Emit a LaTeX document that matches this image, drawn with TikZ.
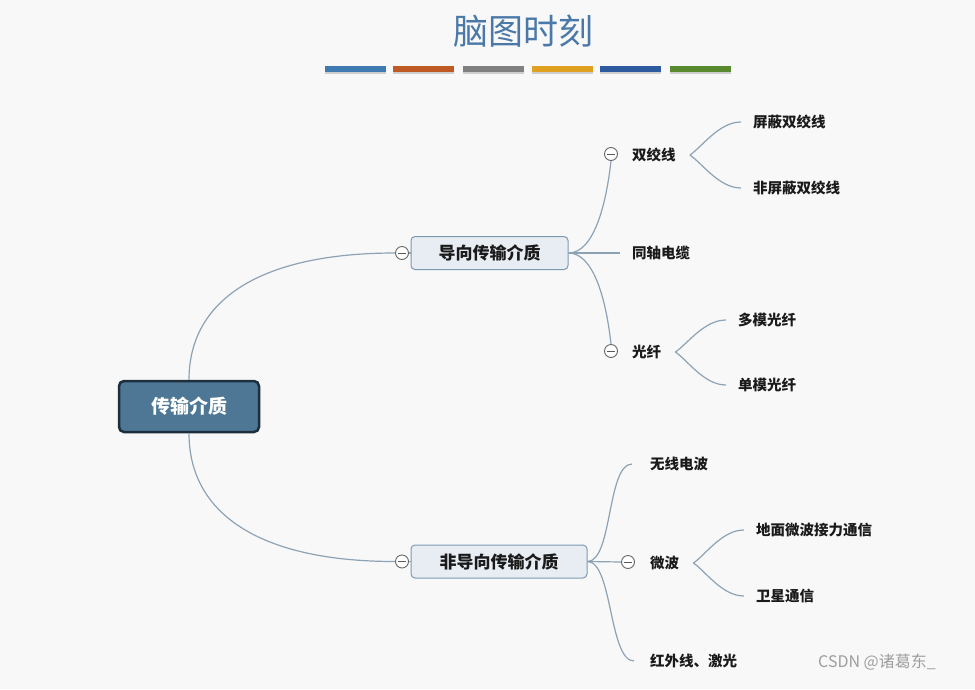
\documentclass[tikz,border=0pt]{standalone}
\usepackage{fontspec}
\newfontfamily\cjk{Noto Sans CJK SC}
\definecolor{bgc}{HTML}{F8F8F8}
\definecolor{linec}{HTML}{8DA2B5}
\definecolor{rootfill}{HTML}{4D7794}
\definecolor{rootborder}{HTML}{1D2E3D}
\definecolor{brfill}{HTML}{E7EDF3}
\definecolor{brborder}{HTML}{8099B3}
\definecolor{textc}{HTML}{1A1A1A}
\definecolor{titlec}{HTML}{4A78A8}
\definecolor{barA}{HTML}{3F7AB0}
\definecolor{barB}{HTML}{C05A24}
\definecolor{barC}{HTML}{808080}
\definecolor{barD}{HTML}{E0A020}
\definecolor{barE}{HTML}{2E5AA0}
\definecolor{barF}{HTML}{5A8A30}
\begin{document}
\begin{tikzpicture}[x=1pt,y=-1pt,
  conn/.style={draw=linec, line width=1.2pt},
  rootbox/.style={rectangle, rounded corners=5pt, draw=rootborder, line width=2.5pt, fill=rootfill, text=white,
    font=\cjk\bfseries\fontsize{19}{19}\selectfont, minimum width=140pt, minimum height=51pt, inner sep=0pt},
  branchbox/.style={rectangle, rounded corners=4pt, draw=brborder, line width=1pt, fill=brfill, text=textc,
    font=\cjk\bfseries\fontsize{17}{17}\selectfont, minimum height=33pt, inner sep=0pt},
  leaf/.style={anchor=west, inner sep=0pt, text=textc, font=\cjk\bfseries\fontsize{14.5}{14.5}\selectfont},
  collapse/.style={circle, draw=black!60, line width=0.9pt, fill=white, minimum size=13pt, inner sep=0pt,
    path picture={\draw[black!65, line width=1pt] ([xshift=-4pt]path picture bounding box.center) -- ([xshift=4pt]path picture bounding box.center);}},
  bar/.style={minimum width=61pt, minimum height=6pt, inner sep=0pt}
]
\fill[bgc] (0,0) rectangle (975,689);
\useasboundingbox (0,0) rectangle (975,689);

% title
\node[text=titlec, font=\cjk\fontsize{35}{35}\selectfont] (title) at (523,31) {脑图时刻};
\foreach \c/\x [count=\i] in {barA/355.5, barB/423.5, barC/493.5, barD/562.5, barE/630.5, barF/700.5}{
  \fill[black!30, opacity=0.6] (\x-30.5,71) rectangle (\x+30.5,74);
  \node[bar, fill=\c] (bar\i) at (\x,69) {};
}

% root
\node[rootbox] (root) at (189,406.5) {传输介质};

% branch 1
\node[collapse] (k1) at (402,253) {};
\node[branchbox, minimum width=157pt] (b1) at (489.5,253) {导向传输介质};
\draw[conn] (k1.east) -- (b1.west);
\draw[conn] (root.north) .. controls (189,300) and (260,253) .. (k1.west);

% branch 2
\node[collapse] (k2) at (402,561.5) {};
\node[branchbox, minimum width=176pt] (b2) at (499,561.5) {非导向传输介质};
\draw[conn] (k2.east) -- (b2.west);
\draw[conn] (root.south) .. controls (189,514) and (260,561.5) .. (k2.west);

% children of branch 1
\node[collapse] (k11) at (611,154) {};
\node[leaf] (t11) at (632,155) {双绞线};
\node[leaf] (t12) at (632,253) {同轴电缆};
\node[collapse] (k13) at (611,351) {};
\node[leaf] (t13) at (632,352) {光纤};
\draw[conn] (b1.east) .. controls +(25,0) and +(-5,45) .. (k11.south);
\draw[conn] (b1.east) -- ([xshift=-12pt]t12.west);
\draw[conn] (b1.east) .. controls +(25,0) and +(-5,-45) .. (k13.north);

% grandchildren of 双绞线
\coordinate (a11) at ([xshift=14pt]t11.east);
\node[leaf] (t111) at (753,122) {屏蔽双绞线};
\node[leaf] (t112) at (753,188) {非屏蔽双绞线};
\draw[conn] (a11) .. controls +(12,-8) and +(-22,0) .. ([xshift=-12pt]t111.west);
\draw[conn] (a11) .. controls +(12,8) and +(-22,0) .. ([xshift=-12pt]t112.west);

% grandchildren of 光纤
\coordinate (a13) at ([xshift=14pt]t13.east);
\node[leaf] (t131) at (738,320) {多模光纤};
\node[leaf] (t132) at (738,385) {单模光纤};
\draw[conn] (a13) .. controls +(12,-8) and +(-22,0) .. ([xshift=-12pt]t131.west);
\draw[conn] (a13) .. controls +(12,8) and +(-22,0) .. ([xshift=-12pt]t132.west);

% children of branch 2
\node[leaf] (t21) at (650,464) {无线电波};
\node[collapse] (k22) at (628,562) {};
\node[leaf] (t22) at (650,563) {微波};
\node[leaf] (t23) at (650,661) {红外线、激光};
\draw[conn] (b2.east) .. controls +(25,0) and +(-25,0) .. ([xshift=-18pt]t21.west);
\draw[conn] (b2.east) -- (k22.west);
\draw[conn] (b2.east) .. controls +(25,0) and +(-25,0) .. ([xshift=-16pt]t23.west);

% grandchildren of 微波
\coordinate (a22) at ([xshift=14pt]t22.east);
\node[leaf] (t221) at (756,530) {地面微波接力通信};
\node[leaf] (t222) at (756,596) {卫星通信};
\draw[conn] (a22) .. controls +(12,-8) and +(-22,0) .. ([xshift=-12pt]t221.west);
\draw[conn] (a22) .. controls +(12,8) and +(-22,0) .. ([xshift=-12pt]t222.west);

% watermark
\node[anchor=west, inner sep=0pt, text=black!38, font=\cjk\fontsize{16}{16}\selectfont] (csdn) at (818,662) {CSDN @诸葛东\_};
\end{tikzpicture}
\end{document}
